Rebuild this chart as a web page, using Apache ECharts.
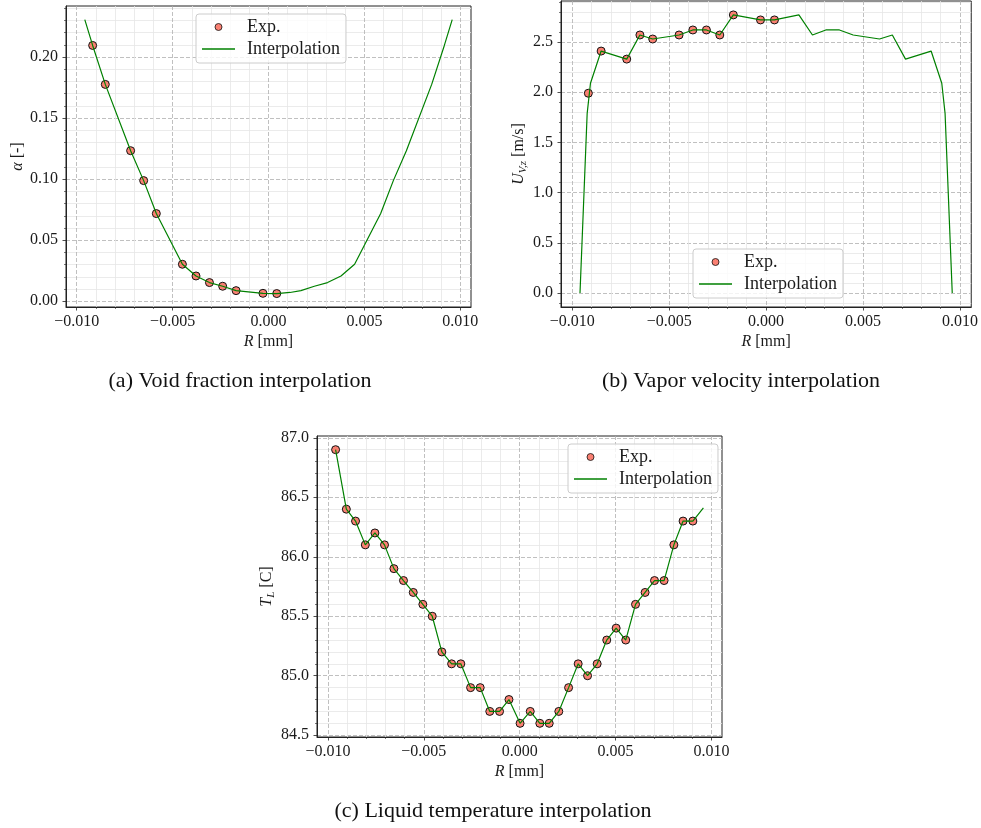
<!DOCTYPE html>
<html><head><meta charset="utf-8">
<script src="https://cdn.jsdelivr.net/npm/echarts@6/dist/echarts.min.js"></script>
<style>html,body{margin:0;padding:0;background:#fff}#c{width:981px;height:828px}</style>
</head><body><div id="c"></div><script>
const FONT = 'Liberation Serif';
const TXT = '#1a1a1a';

// (a) void fraction
const voidR = [-0.00917, -0.00851, -0.00719, -0.00651, -0.00585, -0.00449, -0.00378, -0.00308, -0.00239, -0.00169, -0.00029, 0.00043];
const voidExp = [0.2095, 0.1776, 0.1233, 0.0988, 0.0718, 0.0303, 0.0207, 0.0153, 0.0123, 0.0087, 0.0065, 0.0063];
const voidInterpR = [-0.00958, -0.00917, -0.00851, -0.00719, -0.00651, -0.00585, -0.00449, -0.00378, -0.00308, -0.00239, -0.00169, -0.00029, 0.00043, 0.00112, 0.00169, 0.00239, 0.00308, 0.00378, 0.00449, 0.00585, 0.00651, 0.00719, 0.00851, 0.00917, 0.00958];
const voidInterp = [0.2306, 0.2095, 0.1776, 0.1233, 0.0988, 0.0718, 0.0303, 0.0207, 0.0153, 0.0123, 0.0087, 0.0065, 0.0063, 0.0072, 0.0087, 0.0123, 0.0153, 0.0207, 0.0303, 0.0718, 0.0988, 0.1233, 0.1776, 0.2095, 0.2306];

// (b) vapor velocity
const velR = [-0.00917, -0.00851, -0.00719, -0.00651, -0.00585, -0.00449, -0.00378, -0.00308, -0.00239, -0.00169, -0.00029, 0.00043];
const velExp = [1.99, 2.41, 2.33, 2.57, 2.53, 2.57, 2.62, 2.62, 2.57, 2.77, 2.72, 2.72];
const velInterpR = [-0.0096, -0.00923, -0.00906, -0.00851, -0.00719, -0.00651, -0.00585, -0.00449, -0.00378, -0.00308, -0.00239, -0.00169, -0.00029, 0.00043, 0.00169, 0.00239, 0.00308, 0.00378, 0.00449, 0.00585, 0.00651, 0.00719, 0.00851, 0.00906, 0.00923, 0.0096];
const velInterp = [0, 1.79, 2.09, 2.41, 2.33, 2.57, 2.53, 2.57, 2.62, 2.62, 2.57, 2.77, 2.72, 2.72, 2.77, 2.57, 2.62, 2.62, 2.57, 2.53, 2.57, 2.33, 2.41, 2.09, 1.79, 0];

// (c) liquid temperature
const tempR = [-0.0096, -0.00904, -0.00856, -0.00805, -0.00755, -0.00705, -0.00656, -0.00606, -0.00555, -0.00505, -0.00456, -0.00406, -0.00355, -0.00307, -0.00256, -0.00206, -0.00156, -0.00105, -0.00056, 0.00002, 0.00055, 0.00105, 0.00154, 0.00204, 0.00255, 0.00305, 0.00354, 0.00404, 0.00454, 0.00503, 0.00553, 0.00604, 0.00654, 0.00703, 0.00753, 0.00804, 0.00852, 0.00903];
const tempExp = [86.9, 86.4, 86.3, 86.1, 86.2, 86.1, 85.9, 85.8, 85.7, 85.6, 85.5, 85.2, 85.1, 85.1, 84.9, 84.9, 84.7, 84.7, 84.8, 84.6, 84.7, 84.6, 84.6, 84.7, 84.9, 85.1, 85.0, 85.1, 85.3, 85.4, 85.3, 85.6, 85.7, 85.8, 85.8, 86.1, 86.3, 86.3];
const tempInterpR = tempR.concat([0.00958]);
const tempInterp = tempExp.concat([86.41]);

// ticks
const xTicks = [-0.010, -0.005, 0.000, 0.005, 0.010];
const voidTicks = [0.00, 0.05, 0.10, 0.15, 0.20];
const velTicks = [0.0, 0.5, 1.0, 1.5, 2.0, 2.5];
const tempTicks = [84.5, 85.0, 85.5, 86.0, 86.5, 87.0];

const captions = ['(a) Void fraction interpolation', '(b) Vapor velocity interpolation', '(c) Liquid temperature interpolation'];
const seriesNames = ['Exp.', 'Interpolation'];

function zip(a, b) { return a.map((v, i) => [v, b[i]]); }
function fmt(d) { return v => (v < 0 ? '\u2212' : '') + Math.abs(v).toFixed(d); }

const grids = [
  {left: 66, top: 6, width: 405, height: 301},
  {left: 561, top: 1, width: 411, height: 306},
  {left: 317, top: 436, width: 405, height: 301}
].map(g => Object.assign({show: true, borderColor: '#222', borderWidth: 1, backgroundColor: 'transparent'}, g));

const tickStyle = {color: '#222', width: 0.8};
const richBase = {fontFamily: FONT, fontSize: 16, color: TXT};

function xAxis(gi, min, max) {
  return {
    type: 'value', gridIndex: gi, min: min, max: max, splitNumber: 4,
    name: '{i|R}{n| [mm]}', nameLocation: 'middle', nameGap: 27,
    nameTextStyle: {fontFamily: FONT, fontSize: 16, color: TXT,
      rich: {i: Object.assign({fontStyle: 'italic'}, richBase), n: Object.assign({}, richBase)}},
    axisLine: {show: true, onZero: false, lineStyle: {color: '#222', width: 1}},
    axisTick: {show: true, length: 3.5, customValues: xTicks, lineStyle: tickStyle},
    minorTick: {show: true, splitNumber: 5, length: 2, lineStyle: {color: '#222', width: 0.6}},
    axisLabel: {customValues: xTicks, formatter: fmt(3), margin: 7, fontFamily: FONT, fontSize: 16, color: TXT},
    splitLine: {show: true, lineStyle: {color: '#b0b0b0', width: 0.8, type: [4, 2]}},
    minorSplitLine: {show: true, lineStyle: {color: '#e6e6e6', width: 0.8}}
  };
}
function yAxis(gi, min, max, split, ticks, dec, name, rich, gap) {
  return {
    type: 'value', gridIndex: gi, min: min, max: max, splitNumber: split,
    name: name, nameLocation: 'middle', nameRotate: 90, nameGap: gap,
    nameTextStyle: {fontFamily: FONT, fontSize: 16, color: TXT, rich: rich},
    axisLine: {show: true, onZero: false, lineStyle: {color: '#222', width: 1}},
    axisTick: {show: true, length: 3.5, customValues: ticks, lineStyle: tickStyle},
    minorTick: {show: true, splitNumber: 5, length: 2, lineStyle: {color: '#222', width: 0.6}},
    axisLabel: {customValues: ticks, formatter: fmt(dec), margin: 8, fontFamily: FONT, fontSize: 16, color: TXT},
    splitLine: {show: true, lineStyle: {color: '#b0b0b0', width: 0.8, type: [4, 2]}},
    minorSplitLine: {show: true, lineStyle: {color: '#e6e6e6', width: 0.8}}
  };
}

const richA = {i: Object.assign({fontStyle: 'italic'}, richBase), n: Object.assign({}, richBase)};
const richB = {
  i: Object.assign({fontStyle: 'italic'}, richBase),
  s: {fontFamily: FONT, fontSize: 11, fontStyle: 'italic', color: TXT, padding: [9, 0, 0, 0]},
  n: Object.assign({}, richBase)
};
const richC = richB;

const xAxes = [xAxis(0, -0.01056, 0.01056), xAxis(1, -0.01058, 0.01058), xAxis(2, -0.01057, 0.01055)];
const yAxes = [
  yAxis(0, -0.0047, 0.2418, 5, voidTicks, 2, '{i|\u03b1}{n| [-]}', richA, 36),
  yAxis(1, -0.1385, 2.9085, 6, velTicks, 1, '{i|U}{s|V,z}{n| [m/s]}', richB, 30),
  yAxis(2, 84.485, 87.015, 5, tempTicks, 1, '{i|T}{s|L}{n| [C]}', richC, 38)
];

const expSets = [[voidR, voidExp], [velR, velExp], [tempR, tempExp]];
const intSets = [[voidInterpR, voidInterp], [velInterpR, velInterp], [tempInterpR, tempInterp]];

const series = [];
for (let g = 0; g < 3; g++) {
  series.push({
    name: seriesNames[0], type: 'scatter', xAxisIndex: g, yAxisIndex: g,
    data: zip(expSets[g][0], expSets[g][1]), symbol: 'circle', symbolSize: 8, z: 3,
    itemStyle: {color: '#fa8072', borderColor: '#111', borderWidth: 1, opacity: 1}
  });
  series.push({
    name: seriesNames[1], type: 'line', xAxisIndex: g, yAxisIndex: g,
    data: zip(intSets[g][0], intSets[g][1]), showSymbol: false, symbol: 'none', z: 4,
    lineStyle: {color: '#008000', width: 1.2}, itemStyle: {color: '#008000'}
  });
}

const legendPos = [{left: 196, top: 14}, {left: 693, top: 249}, {left: 568, top: 444}];
const legends = legendPos.map(p => Object.assign({
  orient: 'vertical', selectedMode: false,
  data: [
    {name: seriesNames[0], icon: 'circle', itemStyle: {color: '#fa8072', borderColor: '#111', borderWidth: 0.8}},
    {name: seriesNames[1], icon: 'path://M0,0H33V1.3H0Z', itemStyle: {color: '#008000', borderWidth: 0}}
  ],
  itemWidth: 33, itemHeight: 7, itemGap: 4, padding: [4, 6, 5, 6],
  backgroundColor: 'rgba(255,255,255,0.8)', borderColor: '#cccccc', borderWidth: 1, borderRadius: 3,
  textStyle: {fontFamily: FONT, fontSize: 18, lineHeight: 18, color: TXT, padding: [0, 0, 0, 7]}
}, p));

const capPos = [[240, 381], [741, 381], [493, 811]];
const graphic = captions.map((t, i) => ({
  type: 'text', x: capPos[i][0], y: capPos[i][1],
  style: {text: t, fontFamily: FONT, fontSize: 22, fill: '#111', align: 'center', verticalAlign: 'middle', textAlign: 'center', textVerticalAlign: 'middle'}
}));

const chart = echarts.init(document.getElementById('c'), null, {renderer: 'canvas'});
chart.setOption({
  animation: false,
  backgroundColor: '#fff',
  grid: grids,
  xAxis: xAxes,
  yAxis: yAxes,
  legend: legends,
  series: series,
  graphic: graphic
});
</script></body></html>
